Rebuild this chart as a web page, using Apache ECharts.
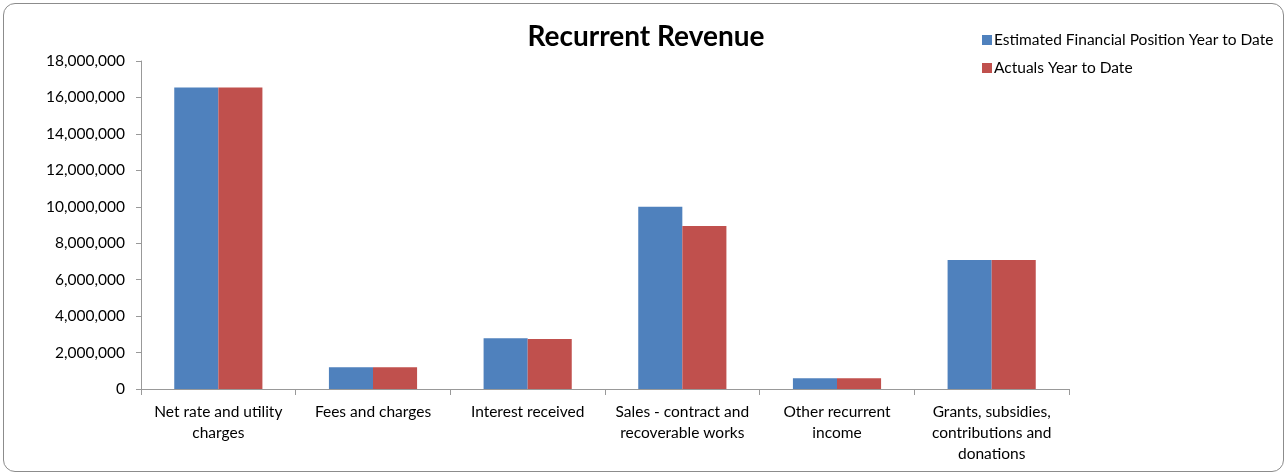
<!DOCTYPE html>
<html>
<head>
<meta charset="utf-8">
<script src="https://cdn.jsdelivr.net/npm/echarts@6/dist/echarts.min.js"></script>
<style>
  html, body { margin: 0; padding: 0; background: #fff; }
  #frame {
    position: absolute; left: 3px; top: 3px; width: 1279px; height: 467px;
    border: 1px solid #8c8c8c; border-radius: 12px; overflow: hidden;
  }
  #chart { position: absolute; left: -4px; top: -4px; width: 1287px; height: 475px; }
</style>
</head>
<body>
<div id="frame"><div id="chart"></div></div>
<script>
// Revenue categories (with explicit line breaks for the axis labels)
const categories = [
  "Net rate and utility\ncharges",
  "Fees and charges",
  "Interest received",
  "Sales - contract and\nrecoverable works",
  "Other recurrent\nincome",
  "Grants, subsidies,\ncontributions and\ndonations"
];
const seriesNames = ["Estimated Financial Position Year to Date", "Actuals Year to Date"];
const estimated = [16550000, 1200000, 2780000, 10000000, 590000, 7080000];
const actuals   = [16550000, 1200000, 2750000, 8950000, 590000, 7080000];
const yMin = 0, yMax = 18000000, yStep = 2000000;

const FONT = "Lato, 'Open Sans', sans-serif";
const chart = echarts.init(document.getElementById('chart'), null, { renderer: 'canvas' });

chart.setOption({
  animation: false,
  title: {
    text: "Recurrent Revenue",
    left: 641, top: 18, textAlign: 'center',
    textStyle: { fontFamily: FONT, fontSize: 28, fontWeight: 'bold', color: '#000' }
  },
  legend: {
    orient: 'vertical',
    left: 977, top: 27,
    itemWidth: 10, itemHeight: 10, itemGap: 12,
    icon: 'rect',
    textStyle: { fontFamily: FONT, fontSize: 15.5, color: '#000', padding: [0, 0, 0, -3] },
    data: seriesNames
  },
  grid: { left: 141, right: 218, top: 61, bottom: 86, containLabel: false },
  xAxis: {
    type: 'category',
    data: categories,
    axisLine: { lineStyle: { color: '#999', width: 1 } },
    axisTick: { show: true, length: 6, lineStyle: { color: '#999' } },
    axisLabel: {
      interval: 0, margin: 12, color: '#000',
      fontFamily: FONT, fontSize: 15.5, lineHeight: 21, align: 'center'
    }
  },
  yAxis: {
    type: 'value',
    min: yMin, max: yMax, interval: yStep,
    axisLine: { show: true, lineStyle: { color: '#999', width: 1 } },
    axisTick: { show: true, length: 5, lineStyle: { color: '#999' } },
    splitLine: { show: false },
    axisLabel: {
      margin: 16, color: '#000', fontFamily: FONT, fontSize: 15.5,
      formatter: v => v.toLocaleString('en-US')
    }
  },
  series: [
    {
      name: seriesNames[0], type: 'bar', data: estimated,
      barGap: '0%', barCategoryGap: '43%',
      itemStyle: { color: '#4F81BD' }
    },
    {
      name: seriesNames[1], type: 'bar', data: actuals,
      itemStyle: { color: '#C0504D' }
    }
  ]
});
</script>
</body>
</html>
